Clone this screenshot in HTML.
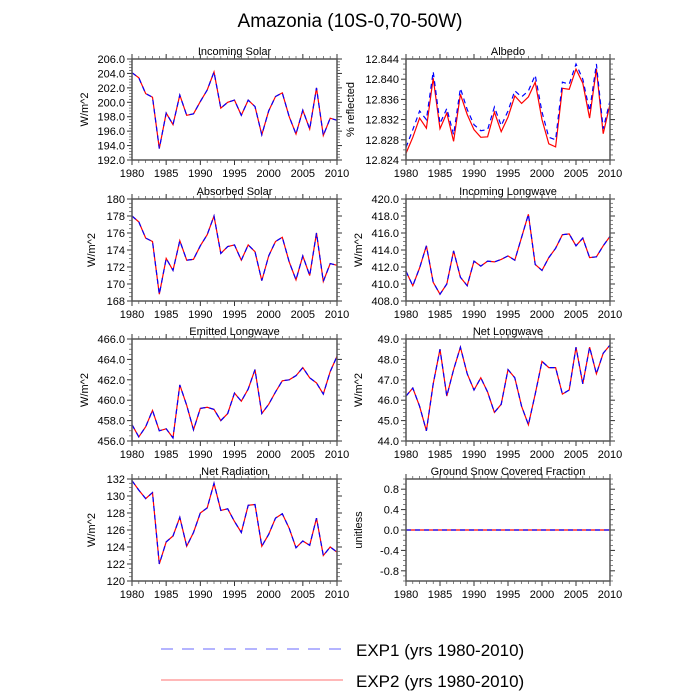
<!DOCTYPE html>
<html><head><meta charset="utf-8"><style>
body{margin:0;background:#fff;}
svg{display:block;font-family:"Liberation Sans",sans-serif;}
</style></head><body>
<svg id="chart" width="700" height="700" viewBox="0 0 700 700">
<text x="350" y="27" font-size="19" text-anchor="middle">Amazonia (10S-0,70-50W)</text>
<g id="panels"></g>
<g>
<line x1="161" y1="649" x2="343" y2="649" stroke="#6a6aff" stroke-width="1" stroke-dasharray="12,9"/>
<text x="356" y="656" font-size="17">EXP1 (yrs 1980-2010)</text>
<line x1="161" y1="680" x2="343" y2="680" stroke="#ff7070" stroke-width="1"/>
<text x="356" y="687" font-size="17">EXP2 (yrs 1980-2010)</text>
</g>
</svg>
<script>
const years = [];
for (let y = 1980; y <= 2010; y++) years.push(y);
const xTicks = [1980,1985,1990,1995,2000,2005,2010];

const solarIn = [204.1,203.4,201.2,200.7,193.6,198.5,196.9,201.0,198.2,198.4,200.1,201.7,204.2,199.2,200.0,200.3,198.2,200.3,199.4,195.5,198.8,200.8,201.3,198.0,195.6,198.9,196.3,202.0,195.4,197.8,197.5];
const solarAbs = [178.0,177.3,175.4,175.0,168.8,173.0,171.6,175.1,172.8,172.9,174.5,175.8,178.0,173.6,174.4,174.6,172.8,174.6,173.8,170.4,173.3,175.0,175.5,172.6,170.5,173.3,171.0,176.0,170.3,172.4,172.2];
const albedoExp2 = [12.8253,12.8285,12.8323,12.8303,12.8402,12.8302,12.8333,12.8277,12.8370,12.8330,12.8300,12.8285,12.8286,12.8335,12.8296,12.8325,12.8367,12.8352,12.8365,12.8394,12.8320,12.8272,12.8266,12.8382,12.8380,12.8420,12.8392,12.8323,12.8420,12.8292,12.8350];
const albedoExp1 = [12.8265,12.8300,12.8337,12.8320,12.8415,12.8312,12.8342,12.8290,12.8382,12.8340,12.8310,12.8298,12.8300,12.8345,12.8308,12.8337,12.8377,12.8365,12.8377,12.8408,12.8335,12.8285,12.8280,12.8394,12.8390,12.8430,12.8400,12.8337,12.8430,12.8302,12.8357];
const lwIn = [411.5,409.8,411.9,414.5,410.2,408.8,410.0,413.9,410.8,409.8,412.7,412.1,412.7,412.6,412.9,413.3,412.8,415.5,418.2,412.3,411.6,413.1,414.2,415.8,415.9,414.5,415.4,413.1,413.2,414.5,415.6];
const lwOut = [457.6,456.4,457.4,459.0,457.0,457.2,456.3,461.5,459.5,457.1,459.2,459.3,459.1,458.0,458.7,460.7,459.9,461.1,463.0,458.7,459.6,460.8,461.9,462.0,462.4,463.2,462.2,461.7,460.6,462.8,464.3];
const lwNet = [46.2,46.6,45.7,44.5,46.8,48.5,46.2,47.5,48.6,47.3,46.5,47.1,46.4,45.4,45.8,47.5,47.1,45.7,44.8,46.3,47.9,47.6,47.6,46.3,46.5,48.6,46.8,48.6,47.3,48.3,48.7];
const netRad = [131.8,130.7,129.7,130.4,122.0,124.6,125.3,127.5,124.1,125.7,128.0,128.6,131.5,128.3,128.5,127.0,125.7,128.9,129.0,124.1,125.5,127.4,127.9,126.2,123.9,124.7,124.2,127.4,123.0,124.0,123.4];
const snow = years.map(() => 0);

const ticksSolarIn = [192,194,196,198,200,202,204,206];
const ticksSolarAbs = [168,170,172,174,176,178,180];
const ticksAlbedo = [12.824,12.828,12.832,12.836,12.840,12.844];
const ticksLwIn = [408,410,412,414,416,418,420];
const ticksLwOut = [456,458,460,462,464,466];
const ticksLwNet = [44,45,46,47,48,49];
const ticksNetRad = [120,122,124,126,128,130,132];
const ticksSnow = [-0.8,-0.4,0,0.4,0.8];

const NS = "http://www.w3.org/2000/svg";
const root = document.getElementById("panels");
function mk(tag, attrs, parent) {
  const e = document.createElementNS(NS, tag);
  for (const k in attrs) e.setAttribute(k, attrs[k]);
  parent.appendChild(e);
  return e;
}
const cols = [[132,337],[406,610]];
const rows = [[59,160],[199,301],[339,441],[479,581]];

function panel(name, title, ytitle, col, row, ymin, ymax, ticks, dec, s1, s2, minorN, showX) {
  const [x0,x1] = cols[col], [y0,y1] = rows[row];
  const g = mk("g", {}, root);
  
  
  const X = v => x0 + (v - 1980) / 30 * (x1 - x0);
  const Y = v => y1 - (v - ymin) / (ymax - ymin) * (y1 - y0);
  const t = mk("text", {x:(x0+x1)/2, y:y0-4, "font-size":11, "text-anchor":"middle"}, g);
  t.textContent = title;
  
  
  const yt = mk("text", {x:0, y:0, "font-size":11, "text-anchor":"middle", transform:`translate(${x0-(dec>=3?52:(dec===0?37:44))},${(y0+y1)/2}) rotate(-90)`}, g);
  yt.textContent = ytitle;
  
  
  // minor y ticks
  const step = ticks[1] - ticks[0];
  for (let v = ymin; v <= ymax + 1e-9; v += step / minorN) {
    const y = Y(v);
    mk("line", {x1:x0-3, x2:x0, y1:y, y2:y, stroke:"#333", "stroke-width":0.6}, g);
    mk("line", {x1:x1, x2:x1+3, y1:y, y2:y, stroke:"#333", "stroke-width":0.6}, g);
  }
  ticks.forEach(v => {
    const y = Y(v);
    mk("line", {x1:x0-5, x2:x0, y1:y, y2:y, stroke:"#333", "stroke-width":1}, g);
    mk("line", {x1:x1, x2:x1+5, y1:y, y2:y, stroke:"#333", "stroke-width":1}, g);
    const l = mk("text", {x:x0-7, y:y+4, "font-size":11, "text-anchor":"end"}, g);
    l.textContent = v.toFixed(dec);
    
    
  });
  years.forEach(yr => {
    const x = X(yr);
    mk("line", {x1:x, x2:x, y1:y1, y2:y1+3, stroke:"#333", "stroke-width":0.6}, g);
    mk("line", {x1:x, x2:x, y1:y0-3, y2:y0, stroke:"#333", "stroke-width":0.6}, g);
  });
  xTicks.forEach(yr => {
    const x = X(yr);
    mk("line", {x1:x, x2:x, y1:y1, y2:y1+5, stroke:"#333", "stroke-width":1}, g);
    mk("line", {x1:x, x2:x, y1:y0-5, y2:y0, stroke:"#333", "stroke-width":1}, g);
    if (showX) {
      const l = mk("text", {x:x, y:y1+17, "font-size":11, "text-anchor":"middle"}, g);
      l.textContent = yr;
      
      
    }
  });
  const pts = s => s.map((v,i) => X(years[i]).toFixed(1) + "," + Y(v).toFixed(1)).join(" ");
  const p2 = mk("polyline", {points:pts(s2), fill:"none", stroke:"#ff0000", "stroke-width":1.2}, g);
  
  
  const p1 = mk("polyline", {points:pts(s1), fill:"none", stroke:"#0000ff", "stroke-width":1.2, "stroke-dasharray":"5,4"}, g);
  
  
  const f = mk("rect", {x:x0, y:y0, width:x1-x0, height:y1-y0, fill:"none", stroke:"#555", "stroke-width":1.5}, g);
  
  
}
panel("incoming-solar","Incoming Solar","W/m^2",0,0,192,206,ticksSolarIn,1,solarIn,solarIn,5,true);
panel("albedo","Albedo","% reflected",1,0,12.824,12.844,ticksAlbedo,3,albedoExp1,albedoExp2,4,true);
panel("absorbed-solar","Absorbed Solar","W/m^2",0,1,168,180,ticksSolarAbs,0,solarAbs,solarAbs,4,true);
panel("incoming-longwave","Incoming Longwave","W/m^2",1,1,408,420,ticksLwIn,1,lwIn,lwIn,4,true);
panel("emitted-longwave","Emitted Longwave","W/m^2",0,2,456,466,ticksLwOut,1,lwOut,lwOut,4,true);
panel("net-longwave","Net Longwave","W/m^2",1,2,44,49,ticksLwNet,1,lwNet,lwNet,5,true);
panel("net-radiation","Net Radiation","W/m^2",0,3,120,132,ticksNetRad,0,netRad,netRad,4,true);
panel("snow-fraction","Ground Snow Covered Fraction","unitless",1,3,-1,1,ticksSnow,1,snow,snow,4,true);
</script>
</body></html>
